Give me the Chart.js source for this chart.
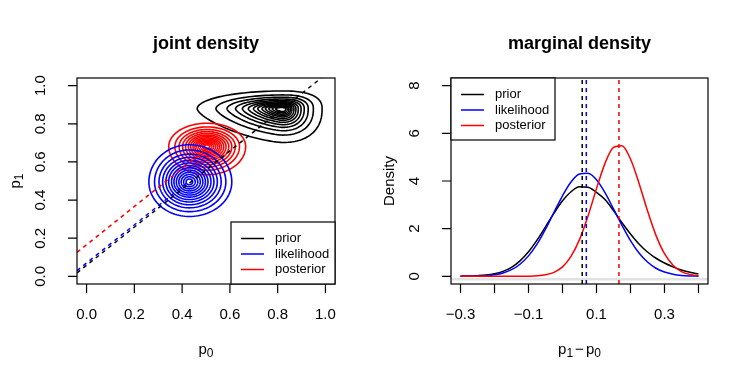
<!DOCTYPE html>
<html>
<head>
<meta charset="utf-8">
<script src="https://cdn.jsdelivr.net/npm/chart.js@4.4.1/dist/chart.umd.min.js"></script>
<style>
  html, body { margin: 0; padding: 0; background: #fff; }
  #wrap { position: relative; width: 747px; height: 382px; }
  canvas { position: absolute; top: 0; }
  #jointCanvas { left: 0; }
  #margCanvas { left: 374px; }
</style>
</head>
<body>
<div id="wrap">
  <canvas id="jointCanvas" width="374" height="382"></canvas>
  <canvas id="margCanvas" width="373" height="382"></canvas>
</div>
<script>
const FONT = '"Liberation Sans", Arial, Helvetica, sans-serif';

const seriesNames = ["prior", "likelihood", "posterior"];
const seriesColors = ["#000000", "#0000ff", "#ff0000"];

// ---- joint density (left) ----
// contour centre [p0, p1] and outer contour reach [left, right, up, down]
const jointCentre = [[0.82, 0.878], [0.43, 0.495], [0.505, 0.681]];
const jointOuter = [
  [0.357, 0.166, 0.094, 0.176],
  [0.169, 0.178, 0.195, 0.181],
  [0.161, 0.161, 0.122, 0.148]
];
// size of each contour relative to the outer one
const priorLevels = [1, 0.78, 0.65, 0.55, 0.47, 0.40, 0.34, 0.29, 0.24, 0.20, 0.16, 0.12, 0.08];
const likeLevels = [1, 0.86, 0.75, 0.66, 0.58, 0.51, 0.44, 0.38, 0.32, 0.26, 0.20, 0.14, 0.08];
const postLevels = [1, 0.84, 0.73, 0.64, 0.56, 0.49, 0.43, 0.37, 0.32, 0.27, 0.22, 0.17, 0.12, 0.07];
// shape of quadrants [upper right, upper left, lower left, lower right]
const contourShape = [[2.5, 2.0, 1.45, 2.3], [2, 2, 2, 2], [2, 2, 2, 2]];

// dashed lines p1 = p0 + d, and where they stop on p0
const diffMeans = [0.058, 0.070, 0.166];
const diffLineEnd = [0.982, 0.43, 0.505];

const jointTicks = [0, 0.2, 0.4, 0.6, 0.8, 1.0];
const jointLabels = ["0.0", "0.2", "0.4", "0.6", "0.8", "1.0"];

// ---- marginal density (right) ----
const diffGrid = [-0.3, -0.275, -0.25, -0.225, -0.2, -0.175, -0.15, -0.125, -0.1, -0.075,
  -0.05, -0.025, 0, 0.025, 0.05, 0.075, 0.1, 0.125, 0.15, 0.175, 0.2, 0.225, 0.25,
  0.275, 0.3, 0.325, 0.35, 0.375, 0.4];
const priorDens = [0.01, 0.015, 0.03, 0.055, 0.11, 0.21, 0.38, 0.65, 1.03, 1.52, 2.08, 2.65,
  3.17, 3.55, 3.76, 3.74, 3.52, 3.22, 2.76, 2.25, 1.78, 1.36, 1.02, 0.76, 0.56, 0.40, 0.27, 0.17, 0.10];
const likeDens = [0.002, 0.005, 0.012, 0.03, 0.067, 0.14, 0.28, 0.51, 0.86, 1.35, 1.98, 2.69,
  3.38, 3.96, 4.29, 4.32, 4.05, 3.51, 2.83, 2.14, 1.50, 0.98, 0.60, 0.34, 0.18, 0.09, 0.04, 0.018, 0.008];
const postDens = [0, 0, 0, 0, 0, 0, 0.001, 0.002, 0.006, 0.021, 0.064, 0.17,
  0.40, 0.84, 1.54, 2.53, 3.68, 4.74, 5.41, 5.48, 4.92, 3.91, 2.75, 1.72, 0.95, 0.47, 0.20, 0.079, 0.027];
const diffMarks = [0.058, 0.070, 0.166];

const margXTicks = [-0.3, -0.2, -0.1, 0, 0.1, 0.2, 0.3, 0.4];
const margXLabels = ["\u22120.3", "", "\u22120.1", "", "0.1", "", "0.3", ""];
const margYTicks = [0, 2, 4, 6, 8];
const margYLabels = ["0", "2", "4", "6", "8"];

// ---- helpers ----
function lineSet(points, color, dash, width, smooth) {
  return {
    data: points,
    showLine: true,
    borderColor: color,
    borderWidth: width,
    borderDash: dash,
    pointRadius: 0,
    fill: false,
    tension: 0,
    cubicInterpolationMode: smooth ? "monotone" : "default"
  };
}

// first dataset in the list is drawn at the bottom
function stack(sets) {
  return sets.map((d, i) => Object.assign(d, { order: sets.length - i }));
}

function drawMath(ctx, parts, x, y, size) {
  let w = 0;
  parts.forEach(p => {
    ctx.font = (p.sub ? size * 0.8 : size) + "px " + FONT;
    w += ctx.measureText(p.t).width + (p.pad || 0) * 2;
  });
  let cx = x - w / 2;
  ctx.textAlign = "left";
  ctx.textBaseline = "alphabetic";
  parts.forEach(p => {
    ctx.font = (p.sub ? size * 0.8 : size) + "px " + FONT;
    cx += p.pad || 0;
    ctx.fillText(p.t, cx, p.sub ? y + size * 0.22 : y);
    cx += ctx.measureText(p.t).width + (p.pad || 0);
  });
}

// R style frame, axes, titles and boxed legend
function rAxes(cfg) {
  return {
    id: "rAxes",
    afterDraw(chart) {
      const { ctx, chartArea: a, scales: { x, y } } = chart;
      ctx.save();
      ctx.strokeStyle = "#000";
      ctx.fillStyle = "#000";
      ctx.lineWidth = 1.2;
      ctx.strokeRect(a.left, a.top, a.right - a.left, a.bottom - a.top);

      ctx.beginPath();
      cfg.xTicks.forEach(v => {
        const px = x.getPixelForValue(v);
        ctx.moveTo(px, a.bottom);
        ctx.lineTo(px, a.bottom + 9);
      });
      cfg.yTicks.forEach(v => {
        const py = y.getPixelForValue(v);
        ctx.moveTo(a.left, py);
        ctx.lineTo(a.left - 9, py);
      });
      ctx.stroke();

      ctx.font = "15px " + FONT;
      ctx.textAlign = "center";
      ctx.textBaseline = "alphabetic";
      cfg.xTicks.forEach((v, i) => {
        if (cfg.xLabels[i]) ctx.fillText(cfg.xLabels[i], x.getPixelForValue(v), a.bottom + 35);
      });
      cfg.yTicks.forEach((v, i) => {
        if (!cfg.yLabels[i]) return;
        ctx.save();
        ctx.translate(a.left - 32, y.getPixelForValue(v));
        ctx.rotate(-Math.PI / 2);
        ctx.fillText(cfg.yLabels[i], 0, 0);
        ctx.restore();
      });

      const midX = (a.left + a.right) / 2;
      const midY = (a.top + a.bottom) / 2;
      drawMath(ctx, cfg.xTitle, midX, a.bottom + 70, 15);
      ctx.save();
      ctx.translate(a.left - 57, midY);
      ctx.rotate(-Math.PI / 2);
      drawMath(ctx, cfg.yTitle, 0, 0, 15);
      ctx.restore();

      ctx.font = "bold 18px " + FONT;
      ctx.textAlign = "center";
      ctx.fillText(cfg.title, midX, 49);

      // legend
      const lw = 104, lh = 62;
      const lx = cfg.legendAt === "bottomright" ? a.right - lw : a.left;
      const ly = cfg.legendAt === "bottomright" ? a.bottom - lh : a.top;
      ctx.fillStyle = "#fff";
      ctx.fillRect(lx, ly, lw, lh);
      ctx.lineWidth = 1.2;
      ctx.strokeStyle = "#000";
      ctx.strokeRect(lx, ly, lw, lh);
      ctx.font = "13px " + FONT;
      ctx.textAlign = "left";
      ctx.textBaseline = "middle";
      seriesNames.forEach((name, i) => {
        const ry = ly + 16.5 + i * 15.5;
        ctx.strokeStyle = seriesColors[i];
        ctx.lineWidth = 1.5;
        ctx.beginPath();
        ctx.moveTo(lx + 10, ry);
        ctx.lineTo(lx + 33, ry);
        ctx.stroke();
        ctx.fillStyle = "#000";
        ctx.fillText(name, lx + 44, ry);
      });
      ctx.restore();
    }
  };
}

const contourPlugin = {
  id: "contours",
  beforeDatasetsDraw(chart) {
    const { ctx, chartArea: a, scales: { x, y } } = chart;
    const levels = [priorLevels, likeLevels, postLevels];
    ctx.save();
    ctx.beginPath();
    ctx.rect(a.left, a.top, a.right - a.left, a.bottom - a.top);
    ctx.clip();
    ctx.lineWidth = 1.6;
    [0, 2, 1].forEach(k => {
      const [cx, cy] = jointCentre[k];
      const [rl, rr, ru, rd] = jointOuter[k];
      const sh = contourShape[k];
      ctx.strokeStyle = seriesColors[k];
      levels[k].forEach(s => {
        ctx.beginPath();
        for (let i = 0; i <= 120; i++) {
          const t = (i / 120) * 2 * Math.PI;
          const c = Math.cos(t), sn = Math.sin(t);
          const q = sn >= 0 ? (c >= 0 ? 0 : 1) : (c < 0 ? 2 : 3);
          const e = 2 / sh[q];
          const dx = Math.sign(c) * Math.pow(Math.abs(c), e) * (c >= 0 ? rr : rl) * s;
          const dy = Math.sign(sn) * Math.pow(Math.abs(sn), e) * (sn >= 0 ? ru : rd) * s;
          const px = x.getPixelForValue(cx + dx), py = y.getPixelForValue(cy + dy);
          if (i === 0) ctx.moveTo(px, py); else ctx.lineTo(px, py);
        }
        ctx.closePath();
        ctx.stroke();
      });
    });
    ctx.restore();
  }
};

const baseOptions = (xr, yr) => ({
  responsive: false,
  animation: false,
  events: [],
  layout: { padding: { left: 77, right: 39, top: 78, bottom: 98 } },
  plugins: { legend: { display: false }, tooltip: { enabled: false }, title: { display: false } },
  scales: {
    x: { type: "linear", display: false, min: xr[0], max: xr[1] },
    y: { type: "linear", display: false, min: yr[0], max: yr[1] }
  }
});

// ---- left chart ----
const jointSets = diffMeans.map((d, i) =>
  lineSet([{ x: -0.04, y: -0.04 + d }, { x: diffLineEnd[i], y: diffLineEnd[i] + d }],
    seriesColors[i], [4, 4], 1.5, false));

new Chart(document.getElementById("jointCanvas"), {
  type: "scatter",
  data: { datasets: stack(jointSets) },
  options: baseOptions([-0.04, 1.04], [-0.04, 1.04]),
  plugins: [contourPlugin, rAxes({
    title: "joint density",
    xTicks: jointTicks, xLabels: jointLabels,
    yTicks: jointTicks, yLabels: jointLabels,
    xTitle: [{ t: "p" }, { t: "0", sub: true }],
    yTitle: [{ t: "p" }, { t: "1", sub: true }],
    legendAt: "bottomright"
  })]
});

// ---- right chart ----
const toPts = vals => diffGrid.map((v, i) => ({ x: v, y: vals[i] }));
const margSets = [
  lineSet([{ x: -0.328, y: -0.12 }, { x: 0.428, y: -0.12 }], "#e2e2e2", [], 2.5, false),
  lineSet(toPts(priorDens), seriesColors[0], [], 1.5, true),
  lineSet(toPts(likeDens), seriesColors[1], [], 1.5, true),
  lineSet(toPts(postDens), seriesColors[2], [], 1.5, true)
].concat(diffMarks.map((m, i) =>
  lineSet([{ x: m, y: -0.32 }, { x: m, y: 8.32 }], seriesColors[i], [4, 4], 1.5, false)));

new Chart(document.getElementById("margCanvas"), {
  type: "scatter",
  data: { datasets: stack(margSets) },
  options: baseOptions([-0.328, 0.428], [-0.32, 8.32]),
  plugins: [rAxes({
    title: "marginal density",
    xTicks: margXTicks, xLabels: margXLabels,
    yTicks: margYTicks, yLabels: margYLabels,
    xTitle: [{ t: "p" }, { t: "1", sub: true }, { t: "\u2212", pad: 2 }, { t: "p" }, { t: "0", sub: true }],
    yTitle: [{ t: "Density" }],
    legendAt: "topleft"
  })]
});
</script>
</body>
</html>
